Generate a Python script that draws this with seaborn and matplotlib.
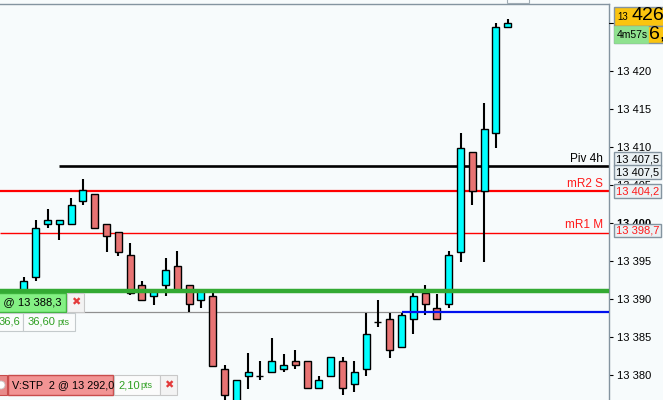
import matplotlib
matplotlib.use("Agg")
import matplotlib.pyplot as plt
from matplotlib.patches import Rectangle, Circle
from matplotlib.lines import Line2D
from matplotlib.transforms import IdentityTransform
import seaborn as sns

# candles (5 min)
opens = [13389.0, 13392.9, 13399.9, 13399.8, 13399.8, 13402.9, 13403.8, 13399.8,
         13398.8, 13395.8, 13391.8, 13390.4, 13391.8, 13394.3, 13391.8, 13389.8,
         13390.35, 13380.75, 13376.2, 13379.8, 13379.9, 13380.35, 13380.75, 13381.8,
         13381.8, 13378.3, 13379.8, 13381.8, 13378.8, 13380.75, 13386.9, 13387.3,
         13383.7, 13387.3, 13390.75, 13388.8, 13389.3, 13396.2, 13409.3, 13404.25,
         13411.8, 13425.75]
highs = [13392.9, 13400.4, 13401.8, 13400.4, 13403.3, 13405.8, 13403.8, 13399.8,
         13398.8, 13397.3, 13392.4, 13391.3, 13395.4, 13396.3, 13391.8, 13391.2,
         13390.8, 13381.3, 13379.3, 13382.9, 13381.8, 13384.8, 13382.8, 13383.3,
         13381.8, 13379.8, 13382.3, 13382.3, 13381.8, 13388.1, 13389.9, 13388.1,
         13388.2, 13390.8, 13391.85, 13390.6, 13396.3, 13411.8, 13409.3, 13415.75,
         13426.3, 13426.8]
lows = [13388.5, 13392.3, 13399.3, 13397.8, 13399.8, 13402.3, 13399.3, 13396.2,
        13395.7, 13390.5, 13389.8, 13389.2, 13390.35, 13391.0, 13388.3, 13388.8,
        13381.2, 13376.5, 13376.0, 13378.2, 13379.3, 13380.35, 13380.35, 13380.75,
        13378.3, 13378.3, 13379.8, 13377.3, 13377.8, 13379.8, 13386.3, 13382.2,
        13383.7, 13385.35, 13387.85, 13387.3, 13388.8, 13394.8, 13402.3, 13394.8,
        13409.8, 13425.75]
closes = [13392.4, 13399.3, 13400.4, 13400.4, 13402.3, 13404.3, 13399.3, 13398.25,
          13396.2, 13390.8, 13389.8, 13391.2, 13393.8, 13391.2, 13389.3, 13391.0,
          13381.2, 13377.3, 13379.3, 13380.35, 13379.9, 13381.8, 13381.3, 13381.3,
          13378.3, 13379.3, 13382.3, 13378.3, 13380.35, 13385.35, 13386.9, 13383.25,
          13387.85, 13390.35, 13389.3, 13387.3, 13395.75, 13409.8, 13404.25, 13412.3,
          13425.75, 13426.3]

price_ticks = [13380, 13385, 13390, 13395, 13400, 13405, 13410, 13415, 13420]

# levels
piv_4h = 13407.5
mr2_s = 13404.2
mr1_m = 13398.7
position_level = 13391.0
order_level = 13388.3
piv_start = 3        # candle index where the pivot line starts
blue_start = 32      # candle index where the stop line starts

BG = "#f7fbfc"
CYAN = "#00ffff"
RED_BODY = "#e87373"
BORDER = "#8494a0"

sns.set_theme(style="white")
plt.rcParams['font.family'] = ['Liberation Sans', 'DejaVu Sans']

W, H = 663, 400
fig = plt.figure(figsize=(W / 100, H / 100), dpi=100)
fig.patch.set_facecolor(BG)
ax = fig.add_axes([0, 0, 609 / W, 396 / H])
ax.set_facecolor(BG)

x_max = 49.58
ax.set_xlim(-2.03, x_max)
ax.set_ylim(13376.7, 13428.8)


def fmt(p, dec=True):
    s = "%.1f" % p if dec else "%d" % p
    ip, _, dp = s.partition(".")
    ip = ip[:-3] + " " + ip[-3:]
    return ip + ("," + dp if dec else "")


# level lines
ax.hlines(order_level, -2.03, blue_start, color="#909090", lw=0.9, zorder=1)
ax.hlines(piv_4h, piv_start, x_max, color="black", lw=1.9, zorder=2)
ax.hlines(mr2_s, -2.03, x_max, color="#ff0000", lw=1.6, zorder=2)
ax.hlines(mr1_m, -2.03, x_max, color="#ff0000", lw=1.0, zorder=2)

# candles
xs = list(range(len(opens)))
bottoms = [min(o, c) for o, c in zip(opens, closes)]
heights = [abs(c - o) for o, c in zip(opens, closes)]
colors = [CYAN if c >= o else RED_BODY for o, c in zip(opens, closes)]
ax.vlines(xs, lows, highs, color="black", lw=1.5, zorder=3)
ax.bar(xs, heights, bottom=bottoms, width=0.6, color=colors,
       edgecolor="black", linewidth=1.0, zorder=4)

ax.hlines(position_level, -2.03, x_max, color="#33aa33", lw=3.2, zorder=5)
ax.hlines(order_level, blue_start, x_max, color="#0010ee", lw=1.6, zorder=5)

# axis
ax.set_xticks([])
ax.yaxis.tick_right()
ax.set_yticks(price_ticks)
ax.set_yticklabels([fmt(t, False) for t in price_ticks])
for t, lab in zip(price_ticks, ax.get_yticklabels()):
    if t == 13400:
        lab.set_fontweight("bold")
ax.tick_params(axis="y", length=3, width=0.8, pad=3, labelsize=8,
               colors="black", right=True, left=False)
for side in ["left", "bottom"]:
    ax.spines[side].set_visible(False)
for side in ["right", "top"]:
    ax.spines[side].set_color(BORDER)
    ax.spines[side].set_linewidth(1.0)


def py(p):
    return H - ax.transData.transform((0, p))[1]


def box(x0, y0, x1, y1, fc, ec, lw=0.8, z=10):
    fig.add_artist(Rectangle((x0, H - y1), x1 - x0, y1 - y0,
                             transform=IdentityTransform(), facecolor=fc,
                             edgecolor=ec, lw=lw, zorder=z))


def label(x, y, s, z=11, **kw):
    fig.text(x / W, 1 - y / H, s, va="center", zorder=z, **kw)


# level names
label(603, py(piv_4h) - 7, "Piv 4h", ha="right", fontsize=8.5, color="black")
label(603, py(mr2_s) - 7, "mR2 S", ha="right", fontsize=8.5, color="#ff1a1a")
label(603, py(mr1_m) - 8, "mR1 M", ha="right", fontsize=8.5, color="#ff1a1a")

# right price boxes
BOXFC = "#eaf1f4"
for yc, p, col in [(py(piv_4h) - 6.5, piv_4h, "black"),
                   (py(piv_4h) + 6.5, piv_4h, "black"),
                   (py(mr2_s) + 0.5, mr2_s, "#ff1a1a"),
                   (py(mr1_m) - 2, mr1_m, "#ff1a1a")]:
    box(614, yc - 7, 661, yc + 6.5, BOXFC, BORDER, lw=1.0)
    label(616.5, yc, fmt(p), fontsize=8, color=col)

# last price box
last = closes[-1]
fig.add_artist(Line2D([609, 613], [H - py(last), H - py(last)],
                      transform=IdentityTransform(), color="black", lw=0.8))
box(614, 7, 664, 25.5, "#fbc40f", BORDER, lw=1.0)
label(617, 17, "13", fontsize=7, color="black")
label(631, 15.5, "426,", fontsize=14, color="black")
box(614, 26, 664, 43, "#fbc40f", BORDER, lw=1.0)
label(649, 34, "6,", fontsize=14, color="black", z=12)
box(614, 26, 648, 43, "#8fe28f", "#8fe28f", lw=0.5, z=11)
label(617, 34.5, "4m57s", fontsize=7.5, color="black", z=12)

# top tab
box(507, -3, 529, 2.5, BG, "#a0acb4", lw=0.8)

# order tickets, left
box(-2, 293, 66, 312, "#84f084", "#3cb43c", lw=1.0)
label(61, 302.5, "2 @ 13 388,3", ha="right", fontsize=8, color="black")
box(67, 293, 84, 312, "#f3f3f3", "#c8c8c8", lw=0.8)
label(75.5, 302.5, "\u2716", ha="center", fontsize=8, color="#e33a3a")
box(-2, 313, 23, 331, "#fafcfc", "#c4cacc", lw=0.8)
label(20, 322, "36,6", ha="right", fontsize=8, color="#2f9f22")
box(23, 313, 75, 331, "#fafcfc", "#c4cacc", lw=0.8)
label(28, 322, "36,60", fontsize=8, color="#2f9f22")
label(57, 322.5, "pts", fontsize=6.5, color="#2f9f22")

box(-2, 375, 7, 395, "#e88a8a", "#c84c4c", lw=0.8)
fig.add_artist(Circle((1, H - 385), 4, transform=IdentityTransform(),
                      facecolor="white", edgecolor="#c8c8c8", lw=0.6, zorder=11))
box(8, 375, 113, 395, "#f29494", "#c84c4c", lw=1.0)
label(12, 385, "V:STP  2 @ 13 292,0", fontsize=7.8, color="black")
box(114, 375, 160, 395, "#fbfbfb", "#c8c8c8", lw=0.8)
label(118, 385, "2,10", fontsize=8, color="#2f9f22")
label(140, 385.5, "pts", fontsize=6.5, color="#2f9f22")
box(160, 375, 177, 395, "#f3f3f3", "#c8c8c8", lw=0.8)
label(168.5, 385, "\u2716", ha="center", fontsize=8, color="#e33a3a")

fig.savefig("out.png", dpi=100, facecolor=BG)
